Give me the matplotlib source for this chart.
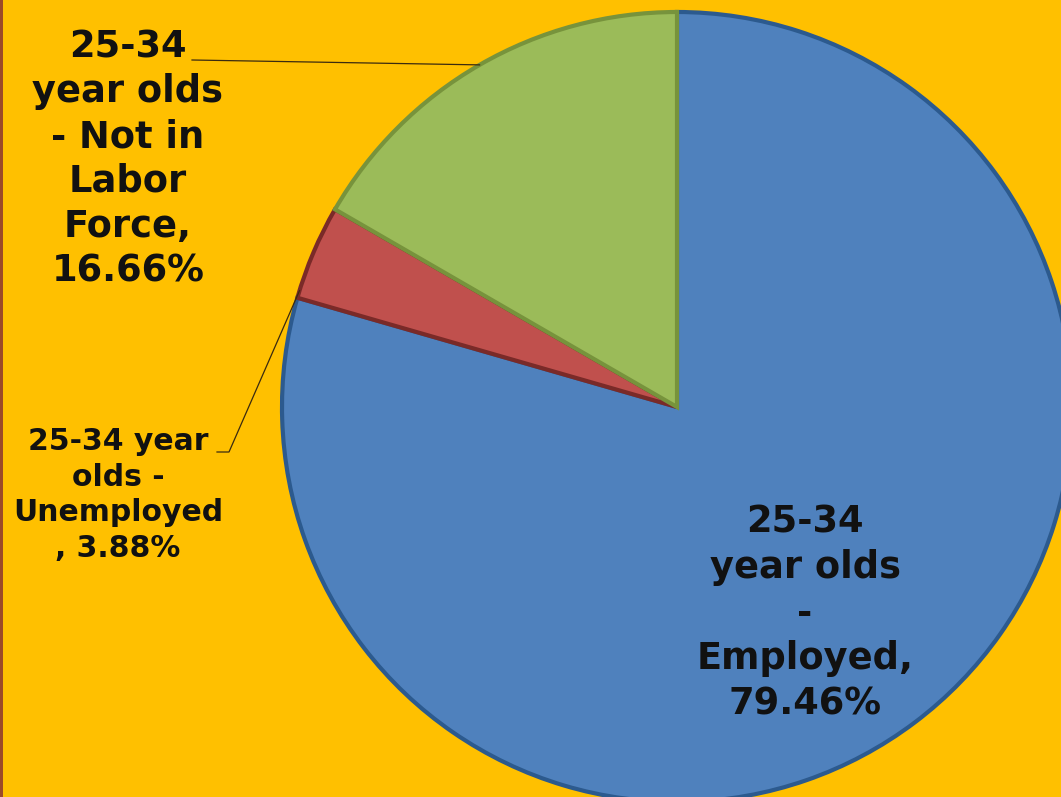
import numpy as np
import matplotlib.pyplot as plt
from matplotlib.patches import Rectangle

# labor force status, 25-34 year olds
categories = ['25-34\nyear olds\n-\nEmployed,\n', '25-34 year\nolds -\nUnemployed\n, ',
              '25-34\nyear olds\n- Not in\nLabor\nForce,\n']
shares = [79.46, 3.88, 16.66]
colors = ['#4F81BD', '#C0504D', '#9BBB59']
edges = ['#2C5A8E', '#7A2A28', '#77933C']

W, H = 1061, 797
cx, cy, R = 677, 407, 395

fig = plt.figure(figsize=(W / 100, H / 100), dpi=100)
fig.patch.set_facecolor('#FFC000')
ax = fig.add_axes([0, 0, 1, 1])
ax.set_facecolor('#FFC000')


def px(x, y):
    # pixel position -> data units (radius 1)
    return (x - cx) / R, (cy - y) / R


wedges, _ = ax.pie(shares, colors=colors, startangle=90, counterclock=False,
                   radius=1, center=(0, 0),
                   wedgeprops=dict(linewidth=3))
for w, ec in zip(wedges, edges):
    w.set_edgecolor(ec)
    w.set_joinstyle('miter')

ax.set_xlim(-cx / R, (W - cx) / R)
ax.set_ylim(-(H - cy) / R, cy / R)
ax.set_aspect('auto')
ax.axis('off')

font = dict(fontfamily='DejaVu Sans', fontweight='bold', color='#111111',
            ha='center', va='center')

labels = [c + f'{v:.2f}%' for c, v in zip(categories, shares)]

ax.text(*px(805, 613), labels[0], fontsize=26.5, linespacing=1.3, **font)
ax.text(*px(118, 495), labels[1], fontsize=21.5, linespacing=1.3, **font)
ax.text(*px(128, 159), labels[2], fontsize=26.5, linespacing=1.27, **font)

# leader lines
mid_green = np.deg2rad(90 - (shares[0] + shares[1] + shares[2] / 2) * 3.6 + 360)
ax.plot([px(192, 60)[0], np.cos(mid_green)], [px(192, 60)[1], np.sin(mid_green)],
        color='#3a2a10', lw=0.9)
edge_red = np.deg2rad(90 - (shares[0] + 0.3) * 3.6 + 360)
x0, y0 = px(217, 452)
x1, y1 = px(229, 452)
ax.plot([x0, x1, np.cos(edge_red)], [y0, y1, np.sin(edge_red)],
        color='#3a2a10', lw=0.9)

fig.add_artist(Rectangle((0, 0), 3 / W, 1, transform=fig.transFigure,
                         facecolor='#9C4A28', edgecolor='none'))

fig.savefig('out.png', dpi=100, facecolor=fig.get_facecolor())
